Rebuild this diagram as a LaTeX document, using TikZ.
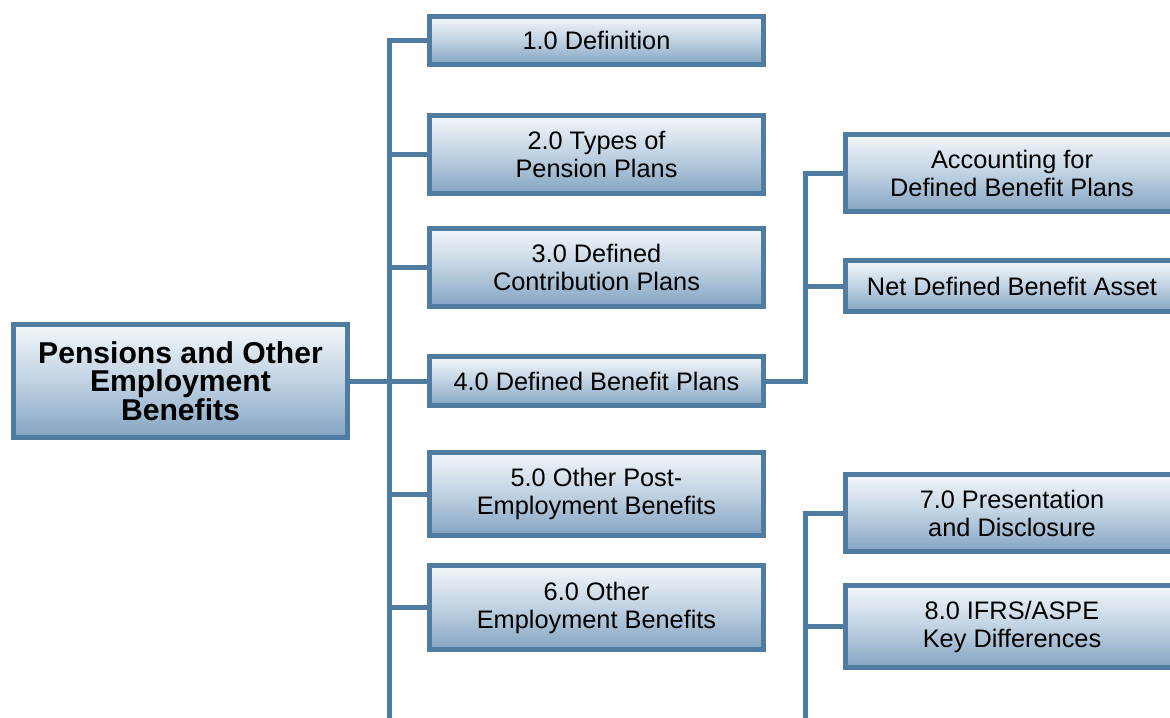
\documentclass[tikz,border=0pt]{standalone}
\usepackage{fontspec}
\setmainfont{Liberation Sans}
\definecolor{edge}{RGB}{79,124,160}
\definecolor{boxtop}{RGB}{244,247,250}
\definecolor{boxmid}{RGB}{192,210,226}
\definecolor{boxbot}{RGB}{132,164,194}
\tikzset{
  card/.style={draw=edge, line width=3.75pt, top color=boxtop, bottom color=boxbot, middle color=boxmid,
    align=center, inner sep=0pt, minimum width=250.5pt, text=black,
    font=\fontsize{19}{21}\selectfont},
  maincard/.style={card, font=\bfseries\fontsize{22.6}{21.4}\selectfont},
  link/.style={draw=edge, line width=3.75pt, line join=miter}
}
\begin{document}
\begin{tikzpicture}[x=0.75pt, y=-0.75pt]
\useasboundingbox (0,0) rectangle (1170,717);
\fill[white] (0,0) rectangle (1170,717);
\clip (0,0) rectangle (1170,717);
% nodes
\node[maincard, minimum height=84.75pt] (main) at (180.5,381) {Pensions and Other\\Employment\\Benefits};
\node[card, minimum height=36pt] (b1) at (596.5,40.5) {1.0 Definition};
\node[card, minimum height=58.5pt] (b2) at (596.5,154.5) {2.0 Types of\\Pension Plans};
\node[card, minimum height=58.5pt] (b3) at (596.5,267.5) {3.0 Defined\\Contribution Plans};
\node[card, minimum height=36.75pt] (b4) at (596.5,381) {4.0 Defined Benefit Plans};
\node[card, minimum height=62.25pt] (b5) at (596.5,494) {5.0 Other Post-\\Employment Benefits};
\node[card, minimum height=63pt] (b6) at (596.5,607.5) {6.0 Other\\Employment Benefits};
\node[card, minimum height=57.75pt] (r1) at (1012,173) {Accounting for\\Defined Benefit Plans};
\node[card, minimum height=38.25pt] (r2) at (1012,286) {Net Defined Benefit Asset};
\node[card, minimum height=57.75pt] (r3) at (1012,513) {7.0 Presentation\\and Disclosure};
\node[card, minimum height=61.5pt] (r4) at (1012,626.5) {8.0 IFRS/ASPE\\Key Differences};
% trunk end points
\coordinate (t1) at (389,740);
\coordinate (t2) at (805,740);
% connectors
\draw[link] (b1.west) -| (t1);
\draw[link] (main.east) -- (b4.west);
\foreach \n in {b2,b3,b5,b6} \draw[link] (\n.west) -- (\n.west -| t1);
\draw[link] (b4.east) -| (805,173) -- (r1.west);
\draw[link] (r2.west) -- (r2.west -| t2);
\draw[link] (r3.west) -| (t2);
\draw[link] (r4.west) -- (r4.west -| t2);
\end{tikzpicture}
\end{document}
